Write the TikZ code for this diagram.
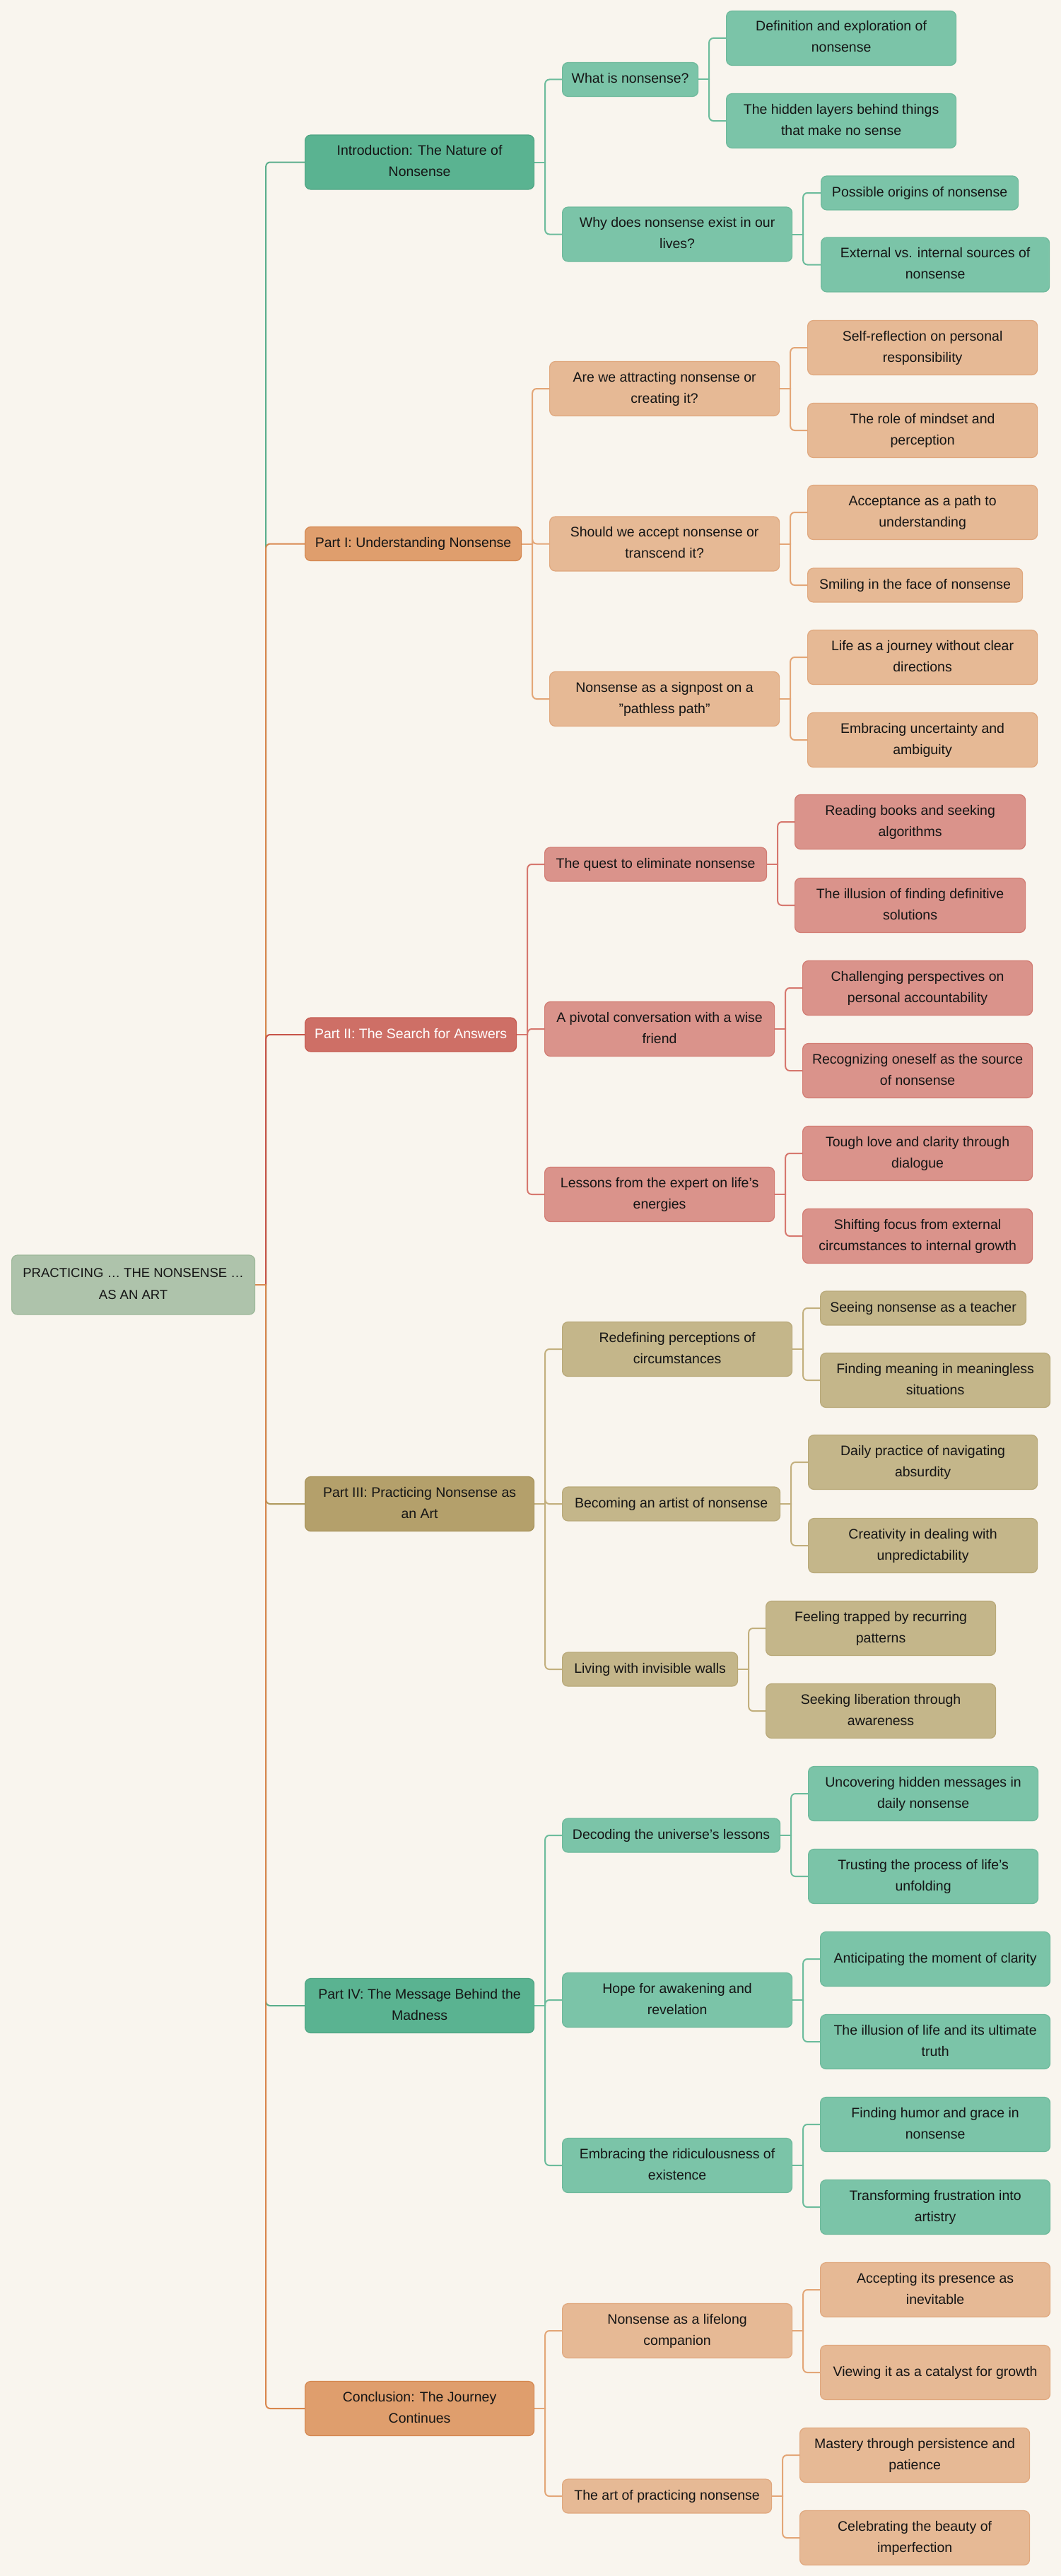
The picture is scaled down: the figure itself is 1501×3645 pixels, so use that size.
\documentclass[tikz,border=0pt]{standalone}
\usepackage{fontspec}
\setmainfont{Liberation Sans}
\definecolor{bgc}{HTML}{F9F5EE}
\definecolor{txt}{HTML}{151515}
\definecolor{rootf}{HTML}{AEC3AB}\definecolor{rootd}{HTML}{9DB899}
\definecolor{gDf}{HTML}{5AB391}\definecolor{gDd}{HTML}{4FA583}
\definecolor{gLf}{HTML}{7BC4A8}\definecolor{gLd}{HTML}{6DB99B}
\definecolor{oDf}{HTML}{DF9E6D}\definecolor{oDd}{HTML}{D4864E}
\definecolor{oLf}{HTML}{E6B995}\definecolor{oLd}{HTML}{E0A87E}
\definecolor{rDf}{HTML}{CE6F66}\definecolor{rDd}{HTML}{C65A50}
\definecolor{rLf}{HTML}{DA938B}\definecolor{rLd}{HTML}{D27C73}
\definecolor{kDf}{HTML}{B4A06B}\definecolor{kDd}{HTML}{A8935A}
\definecolor{kLf}{HTML}{C4B68A}\definecolor{kLd}{HTML}{B9A979}
\definecolor{gE1}{HTML}{5BAE8C}\definecolor{gE2}{HTML}{6CBC9C}
\definecolor{oE1}{HTML}{D9874E}\definecolor{oE2}{HTML}{E3A677}
\definecolor{rE1}{HTML}{C8564B}\definecolor{rE2}{HTML}{D6776E}
\definecolor{kE1}{HTML}{B09A5E}\definecolor{kE2}{HTML}{C2AF7D}
\pgfdeclarelayer{bglayer}
\pgfdeclarelayer{edgelayer}
\pgfsetlayers{bglayer,edgelayer,main}
\tikzset{
  box/.style={rectangle, rounded corners=8pt, line width=1.2pt, inner sep=0pt,
    align=center, text=txt, font=\fontsize{19.5}{30}\selectfont},
  rootbox/.style={box, fill=rootf, draw=rootd, font=\fontsize{18.5}{31}\selectfont},
  gD/.style={box, fill=gDf, draw=gDd},
  gL/.style={box, fill=gLf, draw=gLd},
  oD/.style={box, fill=oDf, draw=oDd},
  oL/.style={box, fill=oLf, draw=oLd},
  rD/.style={box, fill=rDf, draw=rDd, text=white},
  rL/.style={box, fill=rLf, draw=rLd},
  kD/.style={box, fill=kDf, draw=kDd},
  kL/.style={box, fill=kLf, draw=kLd},
  edgebase/.style={line width=2pt, line cap=round, line join=round},
  gA/.style={edgebase, draw=gE1}, gB/.style={edgebase, draw=gE2},
  oA/.style={edgebase, draw=oE1}, oB/.style={edgebase, draw=oE2},
  rA/.style={edgebase, draw=rE1}, rB/.style={edgebase, draw=rE2},
  kA/.style={edgebase, draw=kE1}, kB/.style={edgebase, draw=kE2},
}
\newcommand\st{\rule[-8pt]{0pt}{26pt}}
\newcommand{\nd}[6]{\node[#1, anchor=west, minimum width=#4pt, minimum height=#5pt] (#2) at (#3) {#6};}
\newcommand{\ed}[3]{\draw[#1] (#2.east) -- ++(15,0) coordinate (jn); \draw[#1, rounded corners=6pt] (jn) |- (#3.west);}
\begin{document}
\begin{tikzpicture}[x=1pt,y=-1pt]
\useasboundingbox (0,0) rectangle (1501,3645);
\begin{pgfonlayer}{bglayer}
\fill[bgc] (0,0) rectangle (1501,3645);
\end{pgfonlayer}
% root
\nd{rootbox}{root}{16,1818}{344}{84}{\st PRACTICING … THE NONSENSE …\\\st AS AN ART}
% level 1
\nd{gD}{intro}{431,229.5}{324}{77}{\st Introduction: The Nature of\\\st Nonsense}
\nd{oD}{pa}{431,769.5}{306}{48}{\st Part I: Understanding Nonsense}
\nd{rD}{pb}{431,1464}{299}{48}{\st Part II: The Search for Answers}
\nd{kD}{pc}{431,2128}{324}{77}{\st Part III: Practicing Nonsense as\\\st an Art}
\nd{gD}{pd}{431,2838}{324}{77}{\st Part IV: The Message Behind the\\\st Madness}
\nd{oD}{con}{431,3408}{324}{77}{\st Conclusion: The Journey\\\st Continues}
% intro
\nd{gL}{ia}{795,112.5}{192}{48}{\st What is nonsense?}
\nd{gL}{ib}{795,331.5}{325}{77}{\st Why does nonsense exist in our\\\st lives?}
\nd{gL}{iaa}{1027,54}{325}{77}{\st Definition and exploration of\\\st nonsense}
\nd{gL}{iab}{1027,171}{325}{77}{\st The hidden layers behind things\\\st that make no sense}
\nd{gL}{iba}{1161,273}{279}{48}{\st Possible origins of nonsense}
\nd{gL}{ibb}{1161,374.5}{323}{77}{\st External vs. internal sources of\\\st nonsense}
% part I
\nd{oL}{paa}{777,550}{325}{77}{\st Are we attracting nonsense or\\\st creating it?}
\nd{oL}{pab}{777,769.5}{325}{77}{\st Should we accept nonsense or\\\st transcend it?}
\nd{oL}{pac}{777,989}{325}{77}{\st Nonsense as a signpost on a\\\st "pathless path"}
\nd{oL}{paaa}{1142,492}{325}{77}{\st Self-reflection on personal\\\st responsibility}
\nd{oL}{paab}{1142,609}{325}{77}{\st The role of mindset and\\\st perception}
\nd{oL}{paba}{1142,725}{325}{77}{\st Acceptance as a path to\\\st understanding}
\nd{oL}{pabb}{1142,828}{304}{48}{\st Smiling in the face of nonsense}
\nd{oL}{paca}{1142,930}{325}{77}{\st Life as a journey without clear\\\st directions}
\nd{oL}{pacb}{1142,1047}{325}{77}{\st Embracing uncertainty and\\\st ambiguity}
% part II
\nd{rL}{pba}{770,1223}{314}{48}{\st The quest to eliminate nonsense}
\nd{rL}{pbb}{770,1456}{325}{77}{\st A pivotal conversation with a wise\\\st friend}
\nd{rL}{pbc}{770,1690}{325}{77}{\st Lessons from the expert on life's\\\st energies}
\nd{rL}{pbaa}{1124,1163}{326}{77}{\st Reading books and seeking\\\st algorithms}
\nd{rL}{pbab}{1124,1281}{326}{77}{\st The illusion of finding definitive\\\st solutions}
\nd{rL}{pbba}{1135,1398}{325}{77}{\st Challenging perspectives on\\\st personal accountability}
\nd{rL}{pbbb}{1135,1515}{325}{77}{\st Recognizing oneself as the source\\\st of nonsense}
\nd{rL}{pbca}{1135,1632}{325}{77}{\st Tough love and clarity through\\\st dialogue}
\nd{rL}{pbcb}{1135,1749}{325}{77}{\st Shifting focus from external\\\st circumstances to internal growth}
% part III
\nd{kL}{pca}{795,1909}{325}{77}{\st Redefining perceptions of\\\st circumstances}
\nd{kL}{pcb}{795,2128}{308}{48}{\st Becoming an artist of nonsense}
\nd{kL}{pcc}{795,2362}{248}{48}{\st Living with invisible walls}
\nd{kL}{pcaa}{1160,1851}{291}{48}{\st Seeing nonsense as a teacher}
\nd{kL}{pcab}{1160,1953}{325}{77}{\st Finding meaning in meaningless\\\st situations}
\nd{kL}{pcba}{1143,2069}{324}{77}{\st Daily practice of navigating\\\st absurdity}
\nd{kL}{pcbb}{1143,2187}{324}{77}{\st Creativity in dealing with\\\st unpredictability}
\nd{kL}{pcca}{1083,2304}{325}{77}{\st Feeling trapped by recurring\\\st patterns}
\nd{kL}{pccb}{1083,2421}{325}{77}{\st Seeking liberation through\\\st awareness}
% part IV
\nd{gL}{pda}{795,2597}{308}{48}{\st Decoding the universe’s lessons}
\nd{gL}{pdb}{795,2830}{325}{77}{\st Hope for awakening and\\\st revelation}
\nd{gL}{pdc}{795,3064}{325}{77}{\st Embracing the ridiculousness of\\\st existence}
\nd{gL}{pdaa}{1143,2538}{325}{77}{\st Uncovering hidden messages in\\\st daily nonsense}
\nd{gL}{pdab}{1143,2655}{325}{77}{\st Trusting the process of life’s\\\st unfolding}
\nd{gL}{pdba}{1160,2772}{325}{77}{\st Anticipating the moment of clarity}
\nd{gL}{pdbb}{1160,2889}{325}{77}{\st The illusion of life and its ultimate\\\st truth}
\nd{gL}{pdca}{1160,3006}{325}{77}{\st Finding humor and grace in\\\st nonsense}
\nd{gL}{pdcb}{1160,3123}{325}{77}{\st Transforming frustration into\\\st artistry}
% conclusion
\nd{oL}{cna}{795,3298}{325}{77}{\st Nonsense as a lifelong\\\st companion}
\nd{oL}{cnb}{795,3532}{296}{48}{\st The art of practicing nonsense}
\nd{oL}{cnaa}{1160,3240}{325}{77}{\st Accepting its presence as\\\st inevitable}
\nd{oL}{cnab}{1160,3357}{325}{77}{\st Viewing it as a catalyst for growth}
\nd{oL}{cnba}{1131,3474}{325}{77}{\st Mastery through persistence and\\\st patience}
\nd{oL}{cnbb}{1131,3591}{325}{77}{\st Celebrating the beauty of\\\st imperfection}
% edges
\begin{pgfonlayer}{edgelayer}
\ed{gA}{root}{intro}
\ed{oA}{root}{pa}
\ed{rA}{root}{pb}
\ed{kA}{root}{pc}
\ed{gA}{root}{pd}
\ed{oA}{root}{con}
\ed{gB}{intro}{ia}\ed{gB}{intro}{ib}
\ed{gB}{ia}{iaa}\ed{gB}{ia}{iab}
\ed{gB}{ib}{iba}\ed{gB}{ib}{ibb}
\ed{oB}{pa}{paa}\ed{oB}{pa}{pab}\ed{oB}{pa}{pac}
\ed{oB}{paa}{paaa}\ed{oB}{paa}{paab}
\ed{oB}{pab}{paba}\ed{oB}{pab}{pabb}
\ed{oB}{pac}{paca}\ed{oB}{pac}{pacb}
\ed{rB}{pb}{pba}\ed{rB}{pb}{pbb}\ed{rB}{pb}{pbc}
\ed{rB}{pba}{pbaa}\ed{rB}{pba}{pbab}
\ed{rB}{pbb}{pbba}\ed{rB}{pbb}{pbbb}
\ed{rB}{pbc}{pbca}\ed{rB}{pbc}{pbcb}
\ed{kB}{pc}{pca}\ed{kB}{pc}{pcb}\ed{kB}{pc}{pcc}
\ed{kB}{pca}{pcaa}\ed{kB}{pca}{pcab}
\ed{kB}{pcb}{pcba}\ed{kB}{pcb}{pcbb}
\ed{kB}{pcc}{pcca}\ed{kB}{pcc}{pccb}
\ed{gB}{pd}{pda}\ed{gB}{pd}{pdb}\ed{gB}{pd}{pdc}
\ed{gB}{pda}{pdaa}\ed{gB}{pda}{pdab}
\ed{gB}{pdb}{pdba}\ed{gB}{pdb}{pdbb}
\ed{gB}{pdc}{pdca}\ed{gB}{pdc}{pdcb}
\ed{oB}{con}{cna}\ed{oB}{con}{cnb}
\ed{oB}{cna}{cnaa}\ed{oB}{cna}{cnab}
\ed{oB}{cnb}{cnba}\ed{oB}{cnb}{cnbb}
\end{pgfonlayer}
\end{tikzpicture}
\end{document}
